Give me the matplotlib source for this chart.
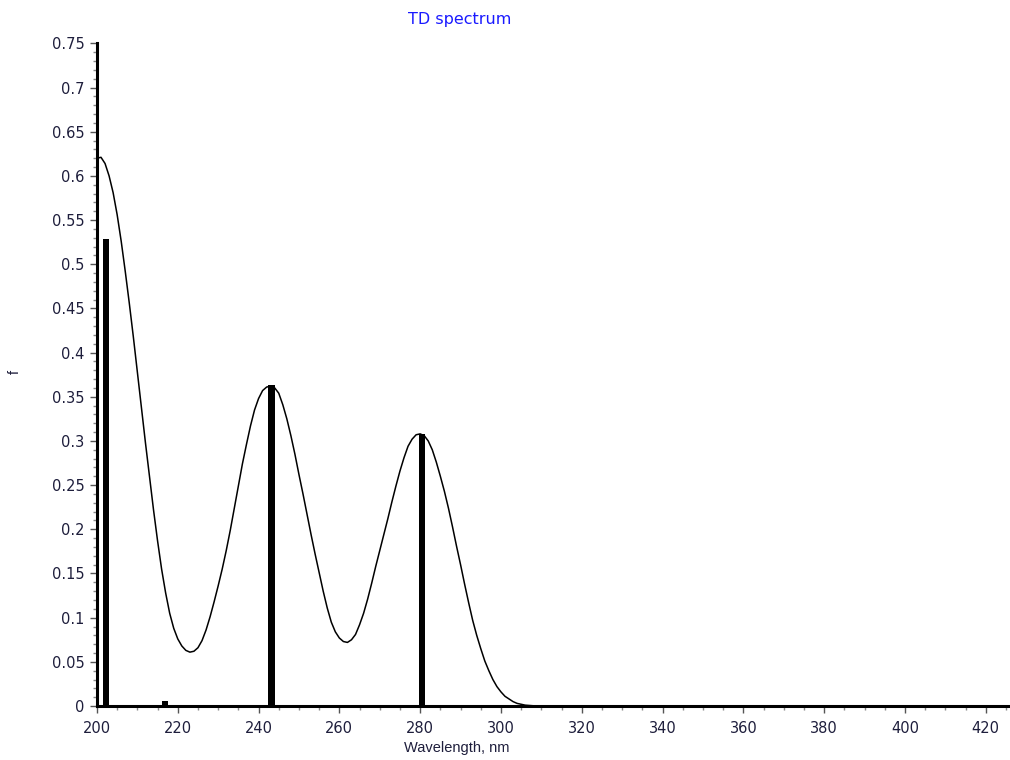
import numpy as np
import matplotlib
matplotlib.use("Agg")
import matplotlib.pyplot as plt
from matplotlib.ticker import MultipleLocator

plt.rcParams['font.family'] = ['Liberation Sans', 'DejaVu Sans']

# stick spectrum: excitation wavelengths and oscillator strengths
lines_nm = [202.2, 216.9, 243.2, 280.5]
lines_f = [0.529, 0.006, 0.363, 0.308]

# broadened curve
curve_nm = [200, 201, 202, 203, 204, 205, 206, 207, 208, 209,
            210, 211, 212, 213, 214, 215, 216, 217, 218, 219,
            220, 221, 222, 223, 224, 225, 226, 227, 228, 229,
            230, 231, 232, 233, 234, 235, 236, 237, 238, 239,
            240, 241, 242, 243, 244, 245, 246, 247, 248, 249,
            250, 251, 252, 253, 254, 255, 256, 257, 258, 259,
            260, 261, 262, 263, 264, 265, 266, 267, 268, 269,
            270, 271, 272, 273, 274, 275, 276, 277, 278, 279,
            280, 281, 282, 283, 284, 285, 286, 287, 288, 289,
            290, 291, 292, 293, 294, 295, 296, 297, 298, 299,
            300, 301, 302, 303, 304, 305, 306, 308, 310, 425.5]
curve_f = [0.620, 0.621, 0.614, 0.600, 0.581, 0.556, 0.526, 0.492, 0.456, 0.418,
           0.378, 0.338, 0.298, 0.260, 0.222, 0.187, 0.155, 0.128, 0.105, 0.088,
           0.076, 0.068, 0.063, 0.061, 0.062, 0.066, 0.074, 0.086, 0.101, 0.118,
           0.136, 0.155, 0.176, 0.199, 0.224, 0.249, 0.274, 0.296, 0.317, 0.335,
           0.348, 0.357, 0.361, 0.362, 0.360, 0.354, 0.341, 0.325, 0.306, 0.285,
           0.262, 0.240, 0.217, 0.194, 0.172, 0.151, 0.130, 0.111, 0.095, 0.084,
           0.077, 0.073, 0.072, 0.075, 0.081, 0.092, 0.105, 0.121, 0.139, 0.158,
           0.176, 0.194, 0.212, 0.231, 0.249, 0.266, 0.281, 0.294, 0.302, 0.307,
           0.308, 0.306, 0.300, 0.290, 0.276, 0.260, 0.243, 0.224, 0.203, 0.181,
           0.160, 0.138, 0.117, 0.097, 0.080, 0.065, 0.051, 0.040, 0.030, 0.022,
           0.016, 0.011, 0.008, 0.005, 0.003, 0.002, 0.001, 0.0003, 0.0, 0.0]

fig = plt.figure(figsize=(10.1, 7.6), dpi=100)
ax = fig.add_axes([0.096, 0.071, 0.902, 0.872])

ax.plot(curve_nm, curve_f, color='black', lw=1.1, zorder=3)
ax.bar(lines_nm, lines_f, width=1.5, color='black', zorder=2)

ax.set_xlim(200, 425.5)
ax.set_ylim(0, 0.75)

ax.xaxis.set_major_locator(MultipleLocator(20))
ax.xaxis.set_minor_locator(MultipleLocator(5))
ax.yaxis.set_major_locator(MultipleLocator(0.05))
ax.yaxis.set_minor_locator(MultipleLocator(0.01))
ax.yaxis.set_major_formatter(plt.FuncFormatter(lambda v, p: ('%.2f' % v).rstrip('0').rstrip('.') if v else '0'))

for s in ['top', 'right']:
    ax.spines[s].set_visible(False)
for s in ['left', 'bottom']:
    ax.spines[s].set_linewidth(2.2)

ax.tick_params(which='major', length=5, width=1, color='#555555', labelsize=10.5, pad=4)
ax.tick_params(axis='x', which='major', pad=6)
ax.tick_params(which='minor', length=3, width=1, color='#888888')
for lab in ax.get_xticklabels() + ax.get_yticklabels():
    lab.set_family('DejaVu Sans')
    lab.set_color('#1e1e3c')

fig.text(0.455, 0.974, 'TD spectrum', color='#1a1aff', fontsize=11.5,
         family='DejaVu Sans', ha='center', va='center')
fig.text(0.452, 0.016, 'Wavelength, nm', fontsize=10.5, color='#1e1e3c', ha='center', va='center')
fig.text(0.015, 0.51, 'f', fontsize=10.5, rotation=90, color='#1e1e3c', ha='center', va='center')

fig.savefig('out.png', dpi=100)
